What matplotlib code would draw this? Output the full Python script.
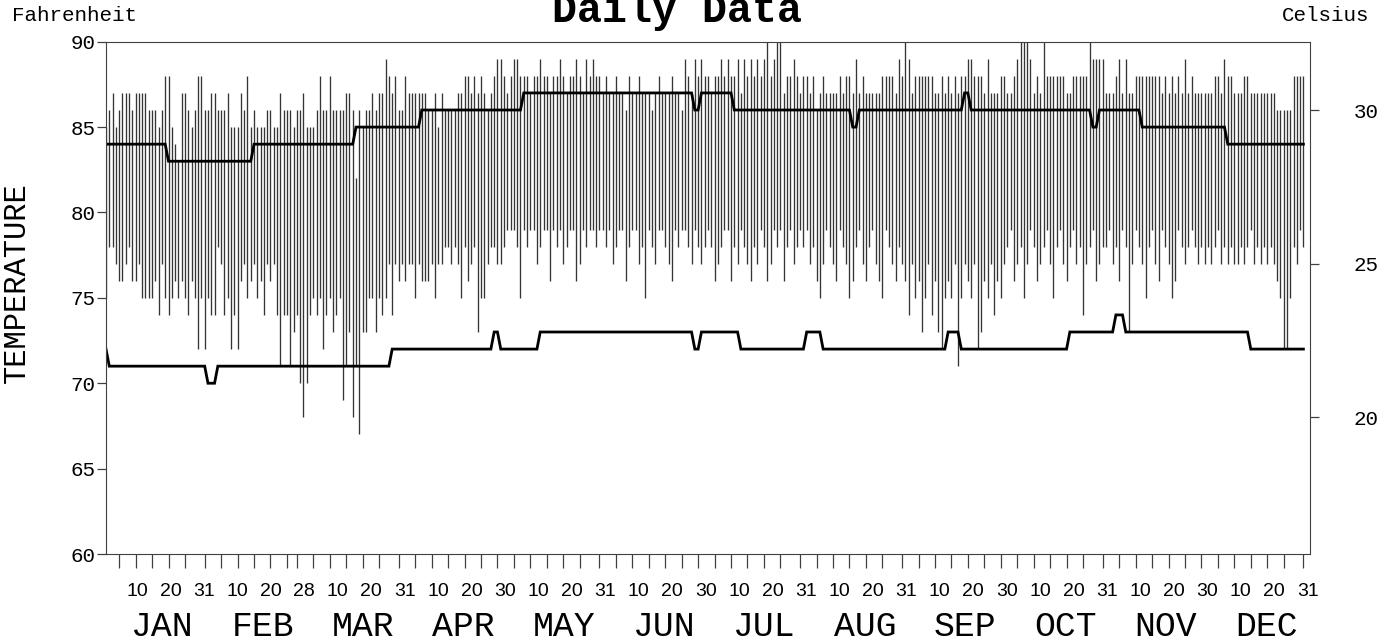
import numpy as np
import matplotlib
matplotlib.use("Agg")
import matplotlib.pyplot as plt

# ---------------- data ----------------
month_names = ["JAN", "FEB", "MAR", "APR", "MAY", "JUN",
               "JUL", "AUG", "SEP", "OCT", "NOV", "DEC"]
month_days = [31, 28, 31, 30, 31, 30, 31, 31, 30, 31, 30, 31]

high_jan = [85,86,87,85,86,87,87,87,86,87,87,87,87,86,86,86,85,86,88,88,85,84,83,87,87,86,85,86,88,88,86]
high_feb = [86,87,87,86,86,86,87,85,85,85,87,86,88,85,86,85,85,85,86,86,85,85,87,86,86,86,85,86]
high_mar = [86,87,85,85,85,86,88,86,86,88,86,86,86,86,87,87,86,82,86,85,86,86,87,86,87,87,89,88,87,88,86]
high_apr = [86,88,87,87,87,87,87,87,86,86,87,85,87,86,86,86,86,87,87,88,88,87,88,87,88,87,86,87,88,89]
high_may = [89,88,87,88,89,89,88,88,88,87,88,88,89,88,88,87,88,88,89,88,87,88,88,89,88,87,89,88,89,88,88]
high_jun = [87,88,87,87,88,87,87,86,88,87,87,88,87,87,87,86,87,88,87,87,87,88,87,87,86,89,88,87,89,88]
high_jul = [89,88,88,87,88,88,89,88,89,88,88,89,87,89,88,89,88,89,88,89,90,88,89,90,90,87,88,88,89,88,87]
high_aug = [88,88,87,88,86,87,88,87,87,87,87,88,87,88,88,87,89,87,88,87,87,87,87,87,88,88,88,88,87,89,88]
high_sep = [90,89,87,88,88,88,88,88,88,87,87,88,87,88,87,88,87,88,88,89,89,88,88,88,87,89,87,87,87,88]
high_oct = [88,87,87,88,89,90,90,90,89,87,88,87,90,88,88,88,88,88,88,87,87,88,88,88,88,88,90,89,89,89,89]
high_nov = [87,87,87,88,89,87,89,87,87,88,88,88,88,88,88,88,88,87,88,87,88,87,88,87,89,87,88,87,87,87]
high_dec = [87,87,87,88,88,87,89,88,88,87,87,87,88,88,87,87,87,87,87,87,87,87,86,86,86,86,86,88,88,88,88]

low_jan = [75,78,78,77,76,76,77,78,76,76,77,75,75,75,75,76,74,77,75,74,75,76,75,76,75,74,76,75,72,75,72]
low_feb = [75,74,74,78,77,74,75,72,74,72,76,77,75,76,77,75,76,74,77,76,77,74,71,74,74,71,73,74]
low_mar = [70,68,70,74,75,74,75,72,74,75,73,74,75,69,71,73,68,71,67,73,73,75,75,73,75,74,75,77,74,77,76]
low_apr = [77,76,77,77,75,77,76,76,76,77,75,77,77,78,78,77,78,77,75,78,76,77,78,73,75,75,77,78,78,77]
low_may = [77,78,79,79,79,78,75,79,78,79,79,77,78,79,79,76,79,78,79,77,78,79,79,76,77,79,78,79,79,78,79]
low_jun = [79,78,79,77,78,79,79,76,78,79,79,77,78,75,79,78,77,79,79,78,77,76,79,78,79,79,78,77,79,78]
low_jul = [77,78,79,78,76,77,78,79,79,76,78,77,79,78,77,76,78,77,79,78,76,77,79,78,79,76,78,79,77,78,79]
low_aug = [78,79,77,78,76,75,77,79,78,77,76,79,78,77,75,76,78,79,77,76,78,79,77,76,75,79,78,77,76,78,77]
low_sep = [76,74,77,75,76,73,75,77,74,76,73,72,75,76,75,77,71,75,77,76,75,77,72,73,76,75,77,74,76,75]
low_oct = [77,78,79,76,77,78,75,77,79,78,76,77,78,79,77,75,78,79,77,76,78,79,77,78,74,77,78,79,76,77,78]
low_nov = [78,79,77,78,76,79,78,73,77,79,78,77,75,78,79,77,76,79,78,77,75,76,79,78,77,78,79,78,77,78]
low_dec = [77,78,77,78,79,77,78,77,78,77,77,78,77,78,79,77,78,77,78,77,78,77,76,75,72,72,75,78,77,79,78]

# normal high / low as (first day-of-year, value) steps
normal_high_steps = [(1, 84), (20, 83), (46, 84), (77, 85), (97, 86), (128, 87), (180, 86),
                     (182, 87), (192, 86), (228, 85), (230, 86), (262, 87), (264, 86),
                     (301, 85), (303, 86), (316, 85), (342, 84)]
normal_low_steps = [(1, 72), (2, 71), (32, 70), (35, 71), (88, 72), (119, 73), (121, 72),
                    (133, 73), (180, 72), (182, 73), (194, 72), (214, 73), (219, 72),
                    (257, 73), (261, 72), (294, 73), (308, 74), (311, 73), (349, 72)]

fahr_ticks = [60, 65, 70, 75, 80, 85, 90]
celsius_ticks = [20, 25, 30]
day_ticks_in_month = [5, 10, 15, 20, 25]   # plus last day of month
day_labels_in_month = [10, 20]             # plus last day of month

# ---------------- assemble ----------------
highs = np.array(high_jan + high_feb + high_mar + high_apr + high_may + high_jun +
                 high_jul + high_aug + high_sep + high_oct + high_nov + high_dec)
lows = np.array(low_jan + low_feb + low_mar + low_apr + low_may + low_jun +
                low_jul + low_aug + low_sep + low_oct + low_nov + low_dec)
ndays = sum(month_days)
days = np.arange(1, ndays + 1)


def expand(steps):
    out = np.zeros(ndays)
    for i, (d, v) in enumerate(steps):
        end = steps[i + 1][0] if i + 1 < len(steps) else ndays + 1
        out[d - 1:end - 1] = v
    return out


normal_high = expand(normal_high_steps)
normal_low = expand(normal_low_steps)

month_start = np.concatenate([[0], np.cumsum(month_days)[:-1]])
tick_pos = []
label_texts = []
for s, n in zip(month_start, month_days):
    for d in day_ticks_in_month + [n]:
        tick_pos.append(s + d)
    for d in day_labels_in_month + [n]:
        label_texts.append(str(d))

# ---------------- figure ----------------
W, H = 1389, 641
fig = plt.figure(figsize=(W / 100, H / 100), dpi=100)
L, R, T, B = 106, 1310, 41.7, 554
ax = fig.add_axes([L / W, 1 - B / H, (R - L) / W, (B - T) / H])

mono = "Liberation Mono"
sans = "Liberation Sans"
spine_col = "#404040"

ax.vlines(days, lows, highs, colors="#353535", linewidth=0.95, snap=True)
ax.plot(days, normal_high, color="black", lw=2.0, solid_joinstyle="miter")
ax.plot(days, normal_low, color="black", lw=2.0, solid_joinstyle="miter")

ax.set_xlim(1, 367)
ax.set_ylim(60, 90)
ax.set_yticks(fahr_ticks)
ax.set_yticklabels([str(t) for t in fahr_ticks], fontfamily=mono, fontsize=15)
ax.tick_params(axis="y", direction="out", length=6.5, width=0.9, pad=1, color=spine_col)
ax.set_xticks(tick_pos)
ax.set_xticklabels([""] * len(tick_pos))
ax.tick_params(axis="x", direction="out", length=10, width=0.9, color=spine_col)
for sp in ax.spines.values():
    sp.set_color(spine_col)
    sp.set_linewidth(0.8)

ax2 = ax.twinx()
ax2.set_ylim((60 - 32) / 1.8, (90 - 32) / 1.8)
ax2.set_yticks(celsius_ticks)
ax2.set_yticklabels([str(t) for t in celsius_ticks], fontfamily=mono, fontsize=15)
ax2.tick_params(axis="y", direction="out", length=6.5, width=0.9, pad=25, color=spine_col)
for sp in ax2.spines.values():
    sp.set_visible(False)

# day labels (evenly spaced)
nlab = len(label_texts)
for k, txt in enumerate(label_texts):
    xc = L + (k + 1) * (R - L) / nlab - 2.3
    fig.text(xc / W, 1 - 591.5 / H, txt, ha="center", va="center",
             fontfamily=sans, fontsize=14)

# month names (evenly spaced)
for i, m in enumerate(month_names):
    xc = L + 6.5 + (i + 0.5) * (R - L) / 12
    fig.text(xc / W, 1 - 636 / H, m, ha="center", va="baseline",
             fontfamily=mono, fontsize=25)

fig.text(676.5 / W, 1 - 22 / H, "Daily Data", ha="center", va="baseline",
         fontfamily=mono, fontsize=30, fontweight="bold")
fig.text(12 / W, 1 - 21 / H, "Fahrenheit", ha="left", va="baseline",
         fontfamily=mono, fontsize=15)
fig.text(1369 / W, 1 - 21 / H, "Celsius", ha="right", va="baseline",
         fontfamily=mono, fontsize=15)
fig.text(16.5 / W, 1 - 283 / H, "TEMPERATURE", ha="center", va="center",
         rotation=90, fontfamily=mono, fontsize=22)

fig.savefig("out.png", dpi=100)
